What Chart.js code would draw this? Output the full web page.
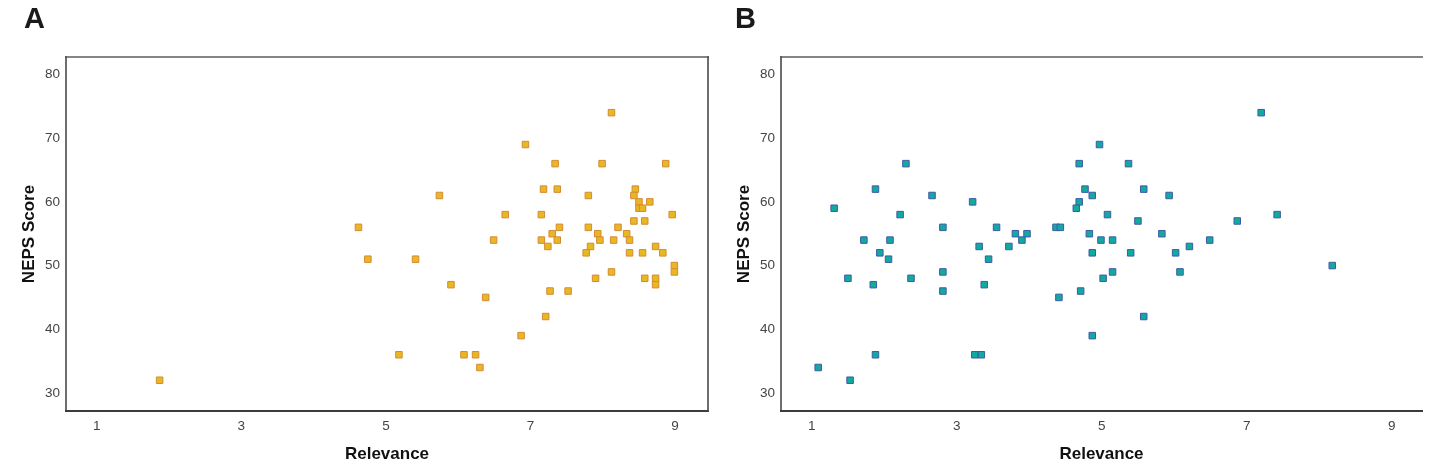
<!DOCTYPE html>
<html>
<head>
<meta charset="utf-8">
<title>NEPS Score vs Relevance</title>
<script src="https://cdn.jsdelivr.net/npm/chart.js"></script>
<style>
  body { margin: 0; background: #fff; }
  .panel { position: absolute; top: 0; width: 715px; height: 474px; }
  .letter { position: absolute; top: 2px; font: bold 29px 'Liberation Sans', Arial, sans-serif; color: #1a1a1a; }
</style>
</head>
<body>
<div class="panel" style="left:0"><canvas id="chartA" width="715" height="474"></canvas></div>
<div class="panel" style="left:715px"><canvas id="chartB" width="715" height="474"></canvas></div>
<div class="letter" style="left:24px">A</div>
<div class="letter" style="left:735px">B</div>
<script>
// Tick labels shared by both panels
const xTicks = [1, 3, 5, 7, 9];
const yTicks = [30, 40, 50, 60, 70, 80];

// Panel A (orange)
const relevanceA = [8.12, 6.93, 7.34, 7.99, 8.87, 7.18, 7.37, 8.45, 5.74, 7.80, 8.43, 8.50, 8.65, 8.50, 8.55,
  6.65, 7.15, 8.96, 8.43, 8.58, 4.62, 7.40, 7.80, 8.21, 7.30, 7.93, 8.33, 6.49, 7.15, 7.37, 7.96, 8.15, 8.37,
  7.24, 7.83, 8.73, 7.77, 8.37, 8.55, 8.83, 4.75, 5.41, 8.99, 8.99, 8.12, 7.90, 8.58, 8.73, 8.73, 5.90, 7.27,
  7.52, 6.38, 7.21, 6.87, 5.18, 6.08, 6.24, 6.30, 1.87];
const scoreA = [74, 69, 66, 66, 66, 62, 62, 62, 61, 61, 61, 60, 60, 59, 59,
  58, 58, 58, 57, 57, 56, 56, 56, 56, 55, 55, 55, 54, 54, 54, 54, 54, 54,
  53, 53, 53, 52, 52, 52, 52, 51, 51, 50, 49, 49, 48, 48, 48, 47, 47, 46,
  46, 45, 42, 39, 36, 36, 36, 34, 32];

// Panel B (teal)
const relevanceB = [4.97, 2.30, 4.69, 1.88, 4.77, 2.66, 4.87, 3.22, 4.69, 1.31, 4.65, 2.22, 5.08, 2.81, 3.55,
  4.37, 4.43, 3.81, 3.97, 4.83, 1.72, 2.08, 3.90, 4.99, 3.31, 3.72, 1.94, 4.87, 2.06, 3.44, 2.81, 5.02, 1.50,
  2.37, 1.85, 3.38, 2.81, 4.71, 4.41, 4.87, 1.88, 3.25, 3.34, 1.09, 1.53, 7.20, 5.37, 5.58, 5.93, 7.42, 5.50,
  6.87, 5.83, 5.15, 6.49, 6.21, 5.40, 6.02, 8.18, 5.15, 6.08, 5.58];
const scoreB = [69, 66, 66, 62, 62, 61, 61, 60, 60, 59, 59, 58, 58, 56, 56,
  56, 56, 55, 55, 55, 54, 54, 54, 54, 53, 53, 52, 52, 51, 51, 49, 48, 48,
  48, 47, 47, 46, 46, 45, 39, 36, 36, 36, 34, 32, 74, 66, 62, 61, 58, 57,
  57, 55, 54, 54, 53, 52, 52, 50, 49, 49, 42];

const tickFont = { family: "'Liberation Sans Narrow', 'Liberation Sans', Arial, sans-serif", size: 13.5 };
const titleFont = { family: "'Liberation Sans', Arial, sans-serif", size: 17, weight: 'bold' };

// Draws the panel frame around the plot area
const framePlugin = {
  id: 'frame',
  beforeDatasetsDraw(chart, args, opts) {
    const { ctx, chartArea: { left, right, top, bottom } } = chart;
    ctx.save();
    ctx.lineCap = 'square';
    ctx.strokeStyle = '#858585';
    ctx.lineWidth = 2;
    ctx.beginPath(); ctx.moveTo(left, top); ctx.lineTo(right, top); ctx.stroke();
    ctx.strokeStyle = '#4a4a4a';
    ctx.lineWidth = 1.6;
    ctx.beginPath(); ctx.moveTo(left, top); ctx.lineTo(left, bottom); ctx.stroke();
    ctx.lineWidth = 2;
    ctx.strokeStyle = '#3c3c3c';
    ctx.beginPath(); ctx.moveTo(left, bottom); ctx.lineTo(right, bottom); ctx.stroke();
    if (opts.right) {
      ctx.lineWidth = 1.6;
      ctx.strokeStyle = '#4a4a4a';
      ctx.beginPath(); ctx.moveTo(right, top); ctx.lineTo(right, bottom); ctx.stroke();
    }
    ctx.restore();
  }
};

function toPoints(xs, ys) {
  return xs.map((x, i) => ({ x: x, y: ys[i] }));
}

function renderPanel(id, xs, ys, fill, border, xMin, xMax, padRight, drawRight) {
  new Chart(document.getElementById(id), {
    type: 'scatter',
    data: {
      datasets: [{
        data: toPoints(xs, ys),
        pointStyle: 'rect',
        pointRadius: 4.6,
        pointHoverRadius: 4.6,
        backgroundColor: fill,
        borderColor: border,
        borderWidth: 1
      }]
    },
    plugins: [framePlugin],
    options: {
      responsive: false,
      animation: false,
      layout: { padding: { top: 57, right: padRight, bottom: 0, left: 0 } },
      plugins: {
        legend: { display: false },
        tooltip: { enabled: false },
        frame: { right: drawRight }
      },
      scales: {
        x: {
          type: 'linear',
          min: xMin,
          max: xMax,
          grid: { display: false, drawTicks: false },
          border: { display: false },
          afterBuildTicks: (s) => { s.ticks = xTicks.map(v => ({ value: v })); },
          afterFit: (s) => { s.height = 63; },
          ticks: { font: tickFont, color: '#444', padding: 7 },
          title: { display: true, text: 'Relevance', font: titleFont, color: '#111', padding: { top: 0, bottom: 9 } }
        },
        y: {
          type: 'linear',
          min: 27.17,
          max: 82.74,
          grid: { display: false, drawTicks: false },
          border: { display: false },
          afterBuildTicks: (s) => { s.ticks = yTicks.map(v => ({ value: v })); },
          afterFit: (s) => { s.width = 66; },
          ticks: { font: tickFont, color: '#444', padding: 6 },
          title: { display: true, text: 'NEPS Score', font: titleFont, color: '#111', padding: { top: 19, bottom: 0 } }
        }
      }
    }
  });
}

renderPanel('chartA', relevanceA, scoreA, '#e8b820', '#d68a36', 0.575, 9.455, 7, true);
renderPanel('chartB', relevanceB, scoreB, '#10ab9e', '#3f5aa8', 0.577, 9.418, 8, false);
</script>
</body>
</html>
